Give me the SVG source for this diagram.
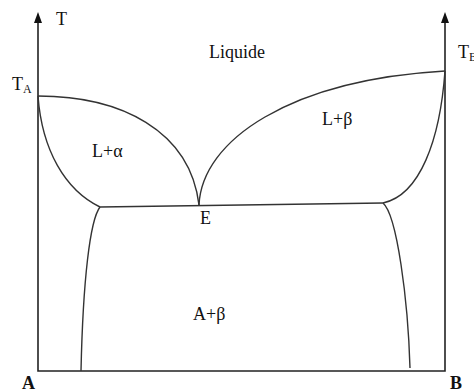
<svg xmlns="http://www.w3.org/2000/svg" width="474" height="389" viewBox="0 0 474 389">
<style>
.ax{stroke:#222;stroke-width:1.6;fill:none}
.cv{stroke:#333;stroke-width:1.4;fill:none}
.t{font-family:"Liberation Serif","Times New Roman",serif;font-size:18px;fill:#111}
.b{font-weight:bold}
</style>
<rect width="474" height="389" fill="#fff"/>
<g id="axes">
<path class="ax" d="M38,21 V371 H445 V21"/>
<polygon points="38,12 34,23 42,23" fill="#111"/>
<polygon points="445,12 441,23 449,23" fill="#111"/>
</g>
<g id="curves">
<path class="cv" d="M38,96 C120,96 190,130 199,205"/>
<path class="cv" d="M199,205 C202,140 290,80 445,71"/>
<path class="cv" d="M38,96 C42,150 65,190 100,207"/>
<path class="cv" d="M445,71 C440,140 420,195 383,203"/>
<path class="cv" d="M100,207 L383,203"/>
<path class="cv" d="M100,207 C90,220 83,280 81,371"/>
<path class="cv" d="M383,203 C397,215 408,300 410,368"/>
</g>
<g id="labels">
<text class="t" x="56" y="25">T</text>
<text class="t" x="12" y="90">T<tspan font-size="12" dy="3">A</tspan></text>
<text class="t" x="458" y="58">T<tspan font-size="12" dy="3">B</tspan></text>
<text class="t" x="237" y="58" text-anchor="middle">Liquide</text>
<text class="t" x="92" y="157">L+α</text>
<text class="t" x="322" y="125">L+β</text>
<text class="t" x="193" y="320">A+β</text>
<text class="t" x="200" y="224" font-size="16">E</text>
<text class="t b" x="22" y="389">A</text>
<text class="t b" x="450" y="389">B</text>
</g>
</svg>
